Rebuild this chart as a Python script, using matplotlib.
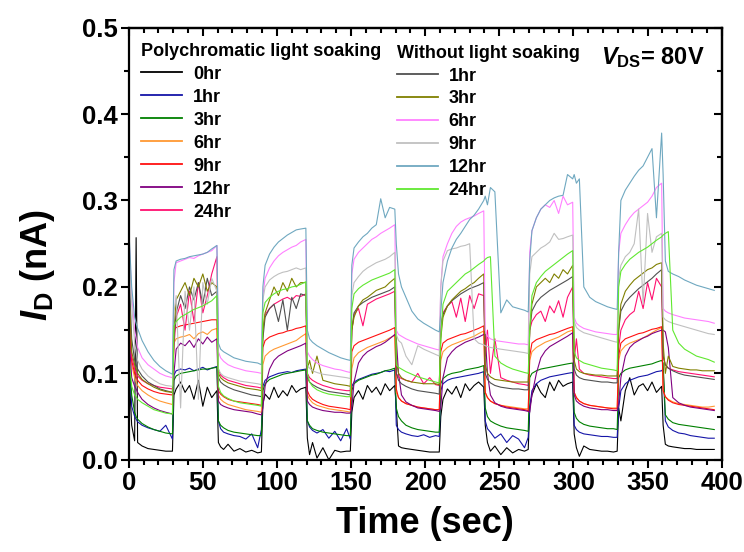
import numpy as np
import matplotlib
matplotlib.use('Agg')
import matplotlib.pyplot as plt
from matplotlib.ticker import MultipleLocator, FormatStrFormatter

plt.rcParams['font.family'] = ['Liberation Sans', 'DejaVu Sans']
plt.rcParams['font.weight'] = 'bold'
plt.rcParams['mathtext.fontset'] = 'custom'
plt.rcParams['mathtext.rm'] = 'Liberation Sans:bold'
plt.rcParams['mathtext.it'] = 'Liberation Sans:italic:bold'
plt.rcParams['mathtext.bf'] = 'Liberation Sans:bold'

# time axis (sec), light on 30-60, 90-120, ... 330-360
t_sec = [0, 2, 4, 5, 6, 9, 13, 17, 21, 25, 29.5,
         30.5, 32, 35, 38, 41, 44, 47, 50, 53, 56, 59.5,
         60.5, 62, 64, 67, 71, 75, 79, 83, 87, 89.5,
         90.5, 92, 95, 98, 101, 104, 107, 110, 113, 116, 119.5,
         120.5, 122, 124, 127, 131, 135, 139, 143, 147, 149.5,
         150.5, 152, 155, 158, 161, 164, 167, 170, 173, 176, 179.5,
         180.5, 182, 184, 187, 191, 195, 199, 203, 207, 209.5,
         210.5, 212, 215, 218, 221, 224, 227, 230, 233, 236, 239.5,
         240.5, 242, 244, 247, 251, 255, 259, 263, 267, 269.5,
         270.5, 272, 275, 278, 281, 284, 287, 290, 293, 296, 299.5,
         300.5, 302, 304, 307, 311, 315, 319, 323, 327, 329.5,
         330.5, 332, 335, 338, 341, 344, 347, 350, 353, 356, 359.5,
         360.5, 362, 364, 367, 371, 375, 379, 383, 387, 391, 395]

# drain current in pA (1e-3 nA)
# polychromatic light soaking
p_0hr = [110, 40, 22, 257, 20, 16, 13, 12, 11, 10, 10,
         75, 82, 90, 78, 86, 70, 92, 62, 84, 72, 80,
         20, 15, 12, 18, 10, 13, 9, 11, 8, 9,
         65, 76, 70, 84, 72, 80, 74, 86, 78, 82, 84,
         25, 6, 20, 2, 14, 0, 11, 9, 10, 10,
         55, 72, 80, 70, 86, 78, 84, 75, 88, 80, 86,
         60, 16, 14, 13, 12, 11, 10, 9, 9, 9,
         50, 70, 82, 76, 85, 72, 88, 80, 86, 90, 84,
         40, 20, 10, 16, 6, 14, 8, 12, 10, 12,
         60, 75, 88, 78, 72, 90, 80, 92, 85, 88, 90,
         30, 14, 4, 16, 12, 11, 10, 10, 9, 10,
         60, 45, 80, 95, 75, 85, 88, 80, 90, 78, 85,
         40, 18, 16, 15, 14, 13, 13, 12, 12, 12, 12]
p_1hr = [130, 62, 50, 47, 44, 40, 37, 35, 33, 40, 24,
         98, 103, 105, 104, 106, 103, 105, 107, 104, 106, 108,
         45, 36, 32, 30, 28, 27, 24, 30, 14, 35,
         85, 92, 96, 98, 100, 101, 102, 101, 103, 104, 105,
         45, 38, 34, 31, 35, 25, 33, 22, 36, 24,
         85, 90, 93, 95, 97, 99, 100, 101, 103, 102, 104,
         40, 35, 32, 30, 28, 27, 29, 26, 28, 27,
         80, 88, 92, 94, 95, 96, 97, 98, 99, 100, 102,
         45, 36, 32, 25, 30, 20, 28, 24, 14, 26,
         60, 80, 88, 92, 94, 96, 97, 98, 99, 100, 101,
         40, 35, 32, 30, 29, 28, 27, 27, 26, 26,
         60, 80, 88, 92, 94, 96, 97, 98, 100, 102, 103,
         105, 45, 38, 34, 31, 30, 28, 27, 26, 25, 25]
p_3hr = [125, 75, 55, 50, 47, 42, 38, 35, 33, 31, 30,
         92, 97, 100, 101, 102, 103, 104, 105, 105, 106, 107,
         45, 40, 37, 34, 32, 31, 30, 29, 28, 28,
         80, 88, 93, 95, 97, 99, 100, 101, 102, 103, 104,
         45, 40, 36, 34, 32, 31, 30, 29, 28, 28,
         80, 88, 92, 94, 96, 98, 99, 101, 103, 104, 106,
         60, 50, 45, 40, 37, 35, 34, 33, 32, 32,
         88, 94, 98, 100, 101, 102, 104, 105, 106, 107, 109,
         60, 50, 45, 42, 39, 37, 36, 35, 34, 33,
         95, 100, 103, 105, 106, 107, 108, 109, 110, 111, 112,
         55, 48, 44, 41, 39, 38, 37, 36, 36, 35,
         95, 100, 104, 106, 107, 108, 109, 110, 111, 113, 115,
         112, 52, 47, 43, 41, 40, 39, 38, 37, 36, 35]
p_6hr = [160, 110, 95, 90, 86, 80, 75, 71, 68, 66, 64,
         135, 140, 142, 143, 145, 140, 146, 148, 145, 150, 152,
         75, 70, 67, 64, 62, 60, 58, 57, 56, 55,
         110, 120, 125, 128, 130, 132, 134, 136, 138, 142, 146,
         75, 70, 66, 63, 61, 59, 58, 57, 56, 55,
         105, 118, 124, 127, 130, 132, 134, 136, 138, 141, 144,
         78, 72, 68, 65, 63, 61, 60, 59, 58, 58,
         115, 125, 130, 133, 135, 137, 139, 141, 143, 146, 149,
         78, 72, 68, 65, 63, 62, 61, 60, 59, 59,
         115, 125, 130, 133, 136, 138, 140, 142, 145, 148, 150,
         78, 72, 68, 65, 63, 62, 61, 60, 60, 60,
         115, 126, 132, 135, 137, 139, 141, 144, 147, 150, 153,
         80, 73, 70, 67, 65, 64, 63, 62, 61, 61, 62]
p_9hr = [170, 115, 100, 96, 92, 86, 82, 79, 77, 76, 75,
         150, 153, 155, 156, 157, 158, 159, 160, 161, 162, 162,
         80, 76, 73, 70, 68, 67, 66, 65, 64, 63,
         130, 138, 142, 144, 146, 147, 149, 150, 152, 153, 155,
         80, 74, 70, 67, 64, 62, 61, 60, 59, 58,
         125, 132, 136, 138, 140, 142, 144, 146, 148, 150, 153,
         82, 72, 68, 65, 63, 61, 60, 59, 58, 58,
         125, 135, 139, 141, 143, 145, 146, 148, 150, 152, 155,
         78, 72, 68, 65, 63, 61, 60, 59, 58, 57,
         120, 135, 139, 141, 143, 145, 146, 148, 150, 152, 154,
         78, 72, 68, 65, 63, 62, 61, 60, 59, 59,
         120, 135, 140, 142, 144, 146, 147, 149, 151, 152, 154,
         80, 73, 69, 66, 64, 63, 62, 61, 60, 59, 58]
p_12hr = [150, 95, 85, 82, 78, 70, 64, 60, 57, 55, 53,
          100, 128, 135, 132, 138, 130, 140, 134, 142, 136, 140,
          68, 64, 62, 60, 58, 57, 56, 55, 53, 52,
          60, 85, 105, 115, 120, 123, 126, 128, 130, 132, 135,
          68, 64, 61, 59, 57, 56, 55, 55, 54, 54,
          60, 90, 112, 120, 125, 128, 131, 133, 136, 140, 145,
          140, 100, 75, 67, 63, 60, 59, 58, 57, 56,
          60, 95, 118, 125, 130, 133, 136, 138, 140, 142, 145,
          145, 100, 75, 66, 62, 60, 59, 58, 57, 56,
          55, 75, 100, 118, 126, 131, 134, 137, 140, 143, 147,
          75, 68, 65, 62, 60, 59, 58, 58, 57, 57,
          65, 95, 120, 130, 135, 138, 141, 143, 146, 148, 150,
          150, 148, 130, 72, 66, 63, 61, 60, 59, 58, 57]
p_24hr = [200, 120, 105, 100, 97, 92, 88, 86, 84, 83, 82,
          130, 165, 180, 150, 195, 160, 205, 170, 190, 215, 235,
          105, 98, 95, 92, 90, 88, 86, 85, 84, 83,
          150, 168, 175, 180, 183, 186, 188, 185, 190, 189, 192,
          100, 95, 92, 89, 86, 84, 82, 81, 80, 80,
          150, 168, 175, 155, 180, 183, 186, 188, 190, 192, 195,
          100, 96, 94, 92, 90, 100, 88, 95, 87, 86,
          155, 170, 178, 183, 165, 187, 160, 190, 175, 192, 190,
          120, 150, 100, 140, 95, 92, 90, 88, 87, 86,
          150, 160, 168, 172, 160, 178, 170, 184, 165, 188, 200,
          115, 140, 105, 100, 98, 97, 96, 95, 94, 94,
          130, 150, 162, 168, 172, 195, 175, 205, 185, 210, 200,
          120, 110, 106, 104, 102, 101, 100, 99, 98, 97, 96]

# without light soaking
w_1hr = [230, 140, 115, 110, 105, 97, 90, 86, 82, 80, 78,
         140, 170, 190, 175, 200, 185, 205, 180, 210, 190, 195,
         95, 90, 87, 84, 81, 79, 77, 75, 74, 73,
         140, 165, 175, 180, 160, 185, 150, 188, 175, 192, 190,
         95, 90, 87, 84, 81, 79, 78, 77, 76, 75,
         150, 170, 178, 182, 185, 188, 190, 192, 194, 196, 200,
         100, 92, 88, 85, 82, 80, 79, 78, 77, 76,
         150, 168, 178, 184, 188, 192, 195, 198, 200, 202, 205,
         100, 93, 89, 86, 84, 83, 82, 82, 81, 81,
         150, 172, 182, 188, 192, 196, 199, 202, 205, 208, 212,
         105, 98, 95, 93, 92, 91, 90, 90, 89, 89,
         150, 172, 182, 188, 193, 198, 202, 206, 210, 215, 220,
         120, 110, 106, 103, 100, 98, 97, 96, 95, 94, 93]
w_3hr = [200, 125, 110, 105, 100, 93, 88, 84, 81, 79, 78,
         150, 185, 195, 205, 190, 210, 200, 215, 195, 205, 200,
         100, 95, 92, 89, 87, 85, 83, 82, 81, 80,
         150, 170, 185, 200, 190, 205, 195, 210, 200, 205, 205,
         105, 115, 100, 120, 92, 90, 88, 87, 86, 85,
         150, 165, 178, 185, 188, 192, 196, 198, 200, 205, 210,
         115, 100, 95, 92, 90, 89, 88, 88, 88, 87,
         140, 165, 178, 185, 190, 195, 198, 202, 205, 210, 215,
         110, 100, 96, 93, 92, 91, 90, 90, 90, 90,
         150, 180, 200, 205, 210, 205, 215, 210, 220, 215, 225,
         115, 105, 102, 100, 99, 98, 98, 97, 97, 97,
         150, 180, 195, 202, 208, 212, 216, 220, 222, 226, 228,
         135, 100, 120, 108, 106, 105, 104, 104, 103, 103, 103]
w_6hr = [265, 190, 150, 140, 130, 118, 110, 105, 100, 97, 95,
         205, 228, 230, 232, 234, 233, 236, 238, 240, 242, 248,
         125, 118, 114, 110, 107, 105, 103, 102, 101, 100,
         190, 210, 222, 230, 236, 240, 243, 246, 248, 252, 255,
         125, 120, 116, 112, 109, 107, 105, 104, 102, 101,
         215, 232, 240, 245, 250, 255, 258, 262, 265, 268, 272,
         150, 145, 143, 140, 137, 134, 132, 130, 128, 127,
         200, 235, 250, 262, 270, 275, 278, 280, 282, 285, 288,
         150, 143, 140, 138, 137, 136, 135, 134, 134, 133,
         240, 265, 280, 290, 295, 292, 300, 285, 305, 295, 298,
         165, 158, 155, 152, 150, 148, 147, 146, 145, 145,
         240, 262, 272, 280, 286, 290, 294, 298, 305, 315, 320,
         175, 172, 170, 168, 166, 164, 163, 162, 161, 160, 158]
w_9hr = [260, 180, 135, 125, 115, 105, 97, 92, 88, 86, 85,
         170, 190, 60, 195, 150, 200, 70, 205, 180, 210, 195,
         105, 100, 97, 95, 93, 91, 90, 89, 88, 87,
         185, 200, 208, 212, 215, 217, 218, 220, 222, 220, 222,
         110, 106, 103, 101, 99, 98, 97, 96, 95, 94,
         190, 205, 212, 218, 222, 225, 228, 230, 232, 235, 240,
         145, 138, 135, 120, 110, 132, 128, 125, 122, 120,
         200, 230, 242, 244, 245, 247, 248, 250, 140, 135, 133,
         132, 131, 130, 129, 128, 127, 126, 125, 124, 123,
         215, 235, 240, 245, 248, 252, 262, 255, 256, 258, 260,
         160, 153, 150, 147, 145, 143, 141, 139, 137, 136,
         210, 225, 235, 240, 250, 290, 180, 285, 240, 258, 262,
         165, 162, 160, 158, 156, 154, 152, 150, 148, 146, 145]
w_12hr = [270, 200, 165, 158, 152, 138, 125, 115, 108, 103, 99,
          220, 230, 232, 233, 235, 236, 237, 238, 240, 244, 248,
          135, 128, 125, 122, 118, 116, 114, 113, 112, 110,
          200, 225, 238, 246, 252, 256, 260, 263, 266, 267, 268,
          150, 140, 136, 132, 128, 124, 121, 118, 116, 115,
          225, 245, 252, 258, 262, 268, 272, 302, 280, 292, 290,
          250, 215, 200, 188, 172, 163, 158, 154, 150, 148,
          170, 205, 230, 245, 255, 262, 270, 278, 283, 290, 300,
          305, 295, 315, 310, 170, 185, 177, 175, 173, 171,
          230, 265, 280, 290, 295, 300, 303, 305, 306, 330, 325,
          330, 320, 325, 200, 188, 183, 180, 177, 175, 174,
          240, 300, 312, 320, 328, 335, 340, 350, 360, 280, 378,
          330, 230, 218, 215, 212, 208, 205, 202, 200, 198, 196]
w_24hr = [120, 85, 75, 73, 70, 66, 62, 58, 56, 54, 53,
          155, 160, 165, 168, 171, 174, 176, 178, 181, 184, 190,
          85, 78, 74, 71, 68, 66, 65, 64, 63, 62,
          170, 182, 188, 192, 195, 197, 198, 200, 201, 203, 206,
          100, 90, 85, 81, 78, 76, 75, 74, 73, 73,
          175, 192, 198, 202, 205, 208, 210, 212, 214, 216, 220,
          110, 107, 105, 102, 99, 96, 94, 92, 90, 89,
          140, 180, 195, 200, 205, 210, 215, 218, 222, 226, 230,
          232, 234, 235, 120, 112, 108, 105, 103, 101, 100,
          150, 190, 205, 212, 218, 222, 226, 230, 234, 238, 242,
          125, 118, 115, 112, 110, 108, 106, 105, 104, 103,
          200, 218, 226, 232, 236, 240, 243, 246, 250, 254, 258,
          260, 262, 264, 150, 135, 128, 124, 120, 118, 116, 113]

poly_labels = ['0hr', '1hr', '3hr', '6hr', '9hr', '12hr', '24hr']
poly_data = [p_0hr, p_1hr, p_3hr, p_6hr, p_9hr, p_12hr, p_24hr]
poly_colors = ['#000000', '#1515a8', '#008000', '#ff9933', '#ff1010', '#800080', '#ff1070']

wo_labels = ['1hr', '3hr', '6hr', '9hr', '12hr', '24hr']
wo_data = [w_1hr, w_3hr, w_6hr, w_9hr, w_12hr, w_24hr]
wo_colors = ['#505050', '#808000', '#ff80ff', '#c0c0c0', '#6fa8c0', '#60e830']

fig = plt.figure(figsize=(7.44, 5.52), dpi=100)
ax = fig.add_axes([0.173, 0.167, 0.797, 0.783])

t = np.array(t_sec)
poly_lines = []
for lab, d, c in zip(poly_labels, poly_data, poly_colors):
    ln, = ax.plot(t, np.array(d) / 1000, color=c, lw=0.8, label=lab)
    poly_lines.append(ln)
wo_lines = []
for lab, d, c in zip(wo_labels, wo_data, wo_colors):
    ln, = ax.plot(t, np.array(d) / 1000, color=c, lw=0.8, label=lab)
    wo_lines.append(ln)

ax.set_xlim(0, 400)
ax.set_ylim(0, 0.5)
ax.xaxis.set_major_locator(MultipleLocator(50))
ax.xaxis.set_minor_locator(MultipleLocator(10))
ax.yaxis.set_major_locator(MultipleLocator(0.1))
ax.yaxis.set_minor_locator(MultipleLocator(0.05))
ax.yaxis.set_major_formatter(FormatStrFormatter('%.1f'))
ax.tick_params(which='both', direction='out', width=1.5, labelsize=18.5, pad=2)
ax.tick_params(which='major', length=6)
ax.tick_params(which='minor', length=3.5)
for s in ax.spines.values():
    s.set_linewidth(1.6)

# top and right ticks point inward
top = ax.secondary_xaxis('top')
top.xaxis.set_major_locator(MultipleLocator(50))
top.xaxis.set_minor_locator(MultipleLocator(10))
top.tick_params(which='both', direction='in', width=1.5, labeltop=False)
top.tick_params(which='major', length=6)
top.tick_params(which='minor', length=3.5)
top.spines['top'].set_linewidth(1.6)
right = ax.secondary_yaxis('right')
right.yaxis.set_major_locator(MultipleLocator(0.1))
right.yaxis.set_minor_locator(MultipleLocator(0.05))
right.tick_params(which='both', direction='in', width=1.5, labelright=False)
right.tick_params(which='major', length=6)
right.tick_params(which='minor', length=3.5)
right.spines['right'].set_linewidth(1.6)

ax.set_xlabel('Time (sec)', fontsize=26, fontweight='bold')
ax.xaxis.set_label_coords(0.5, -0.108)
ax.set_ylabel(r'$I_{\rm D}$ (nA)', fontsize=26, fontweight='bold')
ax.yaxis.set_label_coords(-0.121, 0.45)

leg_kw = dict(frameon=False, fontsize=13, handlelength=2.27, handletextpad=0.6,
              labelspacing=0.33, borderpad=0.2, alignment='left',
              title_fontproperties={'weight': 'bold', 'size': 13})
leg1 = ax.legend(handles=poly_lines, title='Polychromatic light soaking',
                 loc='upper left', bbox_to_anchor=(0.0, 0.994), **leg_kw)
ax.add_artist(leg1)
leg2 = ax.legend(handles=wo_lines, title='Without light soaking',
                 loc='upper left', bbox_to_anchor=(0.431, 0.99), **leg_kw)
for lg in (leg1, leg2):
    for hl in lg.get_lines():
        hl.set_linewidth(1.3)

ax.text(0.972, 0.915, r'$V_{\rm DS}$= 80V', transform=ax.transAxes,
        ha='right', va='baseline', fontsize=17, fontweight='bold')

fig.savefig('out.png', dpi=100)
